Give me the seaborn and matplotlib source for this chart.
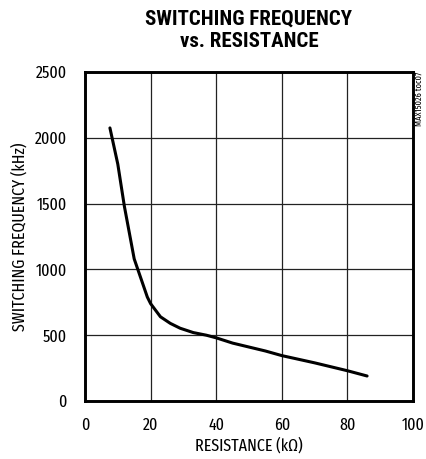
import matplotlib
matplotlib.use("Agg")
import matplotlib.pyplot as plt
import pandas as pd
import seaborn as sns

# data
resistance = [7.6, 10, 12, 15, 19, 20, 23, 26, 29, 33, 37, 40, 45, 50, 55, 60, 70, 80, 86]
frequency = [2075, 1800, 1480, 1080, 790, 740, 640, 590, 553, 520, 500, 480, 440, 410, 380, 345, 290, 230, 190]
x_ticks = [0, 20, 40, 60, 80, 100]
y_ticks = [0, 500, 1000, 1500, 2000, 2500]

df = pd.DataFrame({"R": resistance, "F": frequency})

sns.set_style("white")
plt.rcParams['font.family'] = ['Fira Sans Extra Condensed', 'DejaVu Sans']
plt.rcParams['text.color'] = 'black'
plt.rcParams['axes.labelcolor'] = 'black'
plt.rcParams['xtick.color'] = 'black'
plt.rcParams['ytick.color'] = 'black'

fig = plt.figure(figsize=(4.27, 4.59), dpi=100)
ax = fig.add_axes([85 / 427, 1 - 401 / 459, 328 / 427, 329 / 459])

sns.lineplot(data=df, x="R", y="F", ax=ax, color="black", linewidth=2.2, sort=False)

ax.set_xlim(0, 100)
ax.set_ylim(0, 2500)
ax.set_xticks(x_ticks)
ax.set_yticks(y_ticks)
ax.grid(True, color="#222222", linewidth=0.9)
ax.tick_params(axis="x", length=0, labelsize=12.5, pad=12)
ax.tick_params(axis="y", length=0, labelsize=12.5, pad=13)
for s in ax.spines.values():
    s.set_linewidth(2.1)
    s.set_color("black")

ax.set_xlabel("RESISTANCE (kΩ)", fontsize=12.5, labelpad=3)
ax.set_ylabel("SWITCHING FREQUENCY (kHz)", fontsize=12.5, labelpad=5)

fig.text(249 / 427, 1 - 30 / 459, "SWITCHING FREQUENCY\nvs. RESISTANCE",
         ha="center", va="center", fontsize=15, fontweight="bold",
         family=['Roboto Condensed', 'DejaVu Sans'], linespacing=1.25)
fig.text(419 / 427, 1 - 72 / 459, "MAX15026 toc07", rotation=90,
         ha="center", va="top", fontsize=6.5)

fig.savefig("out.png", dpi=100)
